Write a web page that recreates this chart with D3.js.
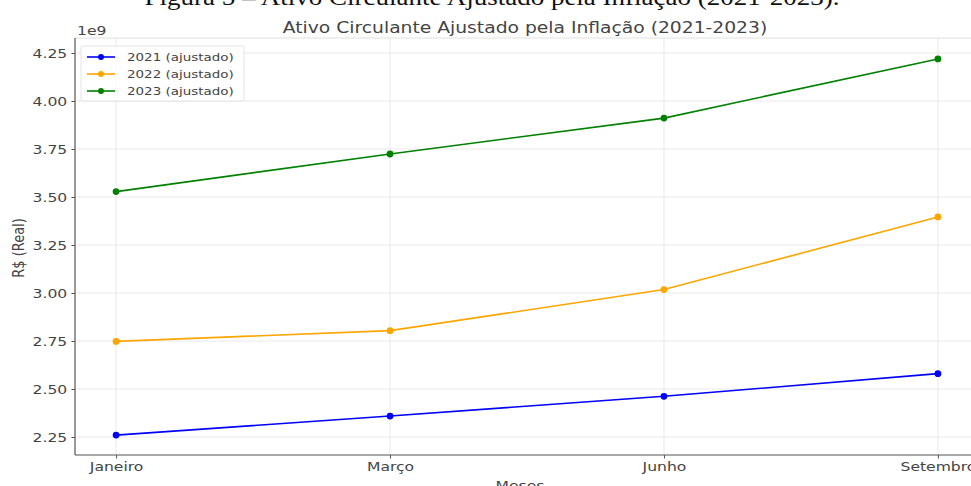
<!DOCTYPE html>
<html>
<head>
<meta charset="utf-8">
<script src="https://cdn.jsdelivr.net/npm/d3@7"></script>
<style>
  html, body { margin: 0; padding: 0; background: #fff; overflow: hidden; }
  svg { display: block; }
</style>
</head>
<body>
<svg id="chart" width="971" height="486"></svg>
<script>
// Months on the x axis
const months = ["Janeiro", "Março", "Junho", "Setembro"];
// Inflation-adjusted current assets, in units of 1e9 R$
const values2021 = [2.260, 2.359, 2.462, 2.580];
const values2022 = [2.748, 2.804, 3.018, 3.396];
const values2023 = [3.528, 3.724, 3.911, 4.219];
const yTicks = [2.25, 2.50, 2.75, 3.00, 3.25, 3.50, 3.75, 4.00, 4.25];
const seriesNames = ["2021 (ajustado)", "2022 (ajustado)", "2023 (ajustado)"];
const seriesColors = ["#0000ff", "#ffa500", "#008000"];

const series = [values2021, values2022, values2023].map((v, i) => ({
  name: seriesNames[i], color: seriesColors[i], values: v
}));

const svg = d3.select("#chart");
const font = "'DejaVu Sans', sans-serif";
const textColor = "#444";
// Horizontal widening applied to all text
const sx = 1.2;

const plot = { left: 75, right: 979, top: 38, bottom: 455 };

const x = d3.scaleLinear()
  .domain([-0.15, months.length - 1 + 0.15])
  .range([plot.left, plot.right]);
const y = d3.scaleLinear()
  .domain([2.25 - 18 / 192, 2.25 + 399 / 192])
  .range([plot.bottom, plot.top]);

// Places a horizontally widened text at (px, py)
function wideText(px, py, str, size, anchor, family) {
  return svg.append("text")
    .attr("transform", `translate(${px},${py}) scale(${sx},1)`)
    .attr("text-anchor", anchor || "start")
    .attr("font-family", family || font)
    .attr("font-size", size)
    .attr("fill", textColor)
    .text(str);
}

// Figure caption above the chart
wideText(492, 5, "Figura 5 – Ativo Circulante Ajustado pela Inflação (2021-2023).", 22.5,
  "middle", "'Liberation Serif', 'Times New Roman', serif").attr("fill", "#111");

// Grid
const grid = svg.append("g").attr("stroke", "#e4e4e4").attr("stroke-width", 0.8);
grid.selectAll("line.gy").data(yTicks).join("line")
  .attr("x1", plot.left).attr("x2", plot.right)
  .attr("y1", d => y(d)).attr("y2", d => y(d));
grid.selectAll("line.gx").data(months).join("line")
  .attr("x1", (d, i) => x(i)).attr("x2", (d, i) => x(i))
  .attr("y1", plot.top).attr("y2", plot.bottom);

// Top spine (faint)
svg.append("line")
  .attr("x1", plot.left).attr("x2", plot.right)
  .attr("y1", plot.top).attr("y2", plot.top)
  .attr("stroke", "#e0e0e0").attr("stroke-width", 1);

// Axes
const yAxis = d3.axisLeft(y).tickValues(yTicks).tickFormat(d3.format(".2f"))
  .tickSize(3.5).tickPadding(3);
const xAxis = d3.axisBottom(x).tickValues(months.map((d, i) => i))
  .tickFormat(i => months[i]).tickSize(3.5).tickPadding(3.5);

const gy = svg.append("g").attr("transform", `translate(${plot.left},0)`).call(yAxis);
const gx = svg.append("g").attr("transform", `translate(0,${plot.bottom})`).call(xAxis);
[gx, gy].forEach(g => {
  g.select(".domain").attr("stroke", "#555").attr("stroke-width", 1.2);
  g.selectAll(".tick line").attr("stroke", "#555");
  g.selectAll(".tick text").attr("font-family", font).attr("font-size", 13)
    .attr("fill", textColor);
});
gy.selectAll(".tick text").attr("transform", `scale(${sx},1)`);
gx.selectAll(".tick text").attr("transform", `scale(${sx},1)`);
gy.select(".domain").attr("d", `M0,${plot.top}V${plot.bottom}`);
gx.select(".domain").attr("d", `M${plot.left},0H${plot.right}`);

// Offset and axis labels
wideText(77, 35, "1e9", 13, "start");
wideText(525, 33, "Ativo Circulante Ajustado pela Inflação (2021-2023)", 15.6, "middle");
svg.append("text")
  .attr("transform", `translate(24,248) scale(${sx},1) rotate(-90)`)
  .attr("text-anchor", "middle").attr("font-family", font).attr("font-size", 13)
  .attr("fill", textColor).text("R$ (Real)");
wideText(520, 490, "Meses", 13, "middle");

// Lines and markers
const line = d3.line().x((d, i) => x(i)).y(d => y(d));
const gs = svg.append("g");
series.forEach(s => {
  gs.append("path").datum(s.values)
    .attr("d", line).attr("fill", "none")
    .attr("stroke", s.color).attr("stroke-width", 1.6);
  gs.selectAll(null).data(s.values).join("circle")
    .attr("cx", (d, i) => x(i)).attr("cy", d => y(d)).attr("r", 3.4)
    .attr("fill", s.color);
});

// Legend
const lg = svg.append("g");
lg.append("rect").attr("x", 81).attr("y", 46).attr("width", 163).attr("height", 55)
  .attr("rx", 2).attr("fill", "#fff").attr("fill-opacity", 0.8)
  .attr("stroke", "#ddd").attr("stroke-width", 0.8);
series.forEach((s, i) => {
  const ly = 57 + i * 17;
  lg.append("line").attr("x1", 87).attr("x2", 115).attr("y1", ly).attr("y2", ly)
    .attr("stroke", s.color).attr("stroke-width", 1.6);
  lg.append("circle").attr("cx", 101).attr("cy", ly).attr("r", 3).attr("fill", s.color);
  wideText(127, ly + 4, s.name, 11.2, "start");
});
</script>
</body>
</html>
